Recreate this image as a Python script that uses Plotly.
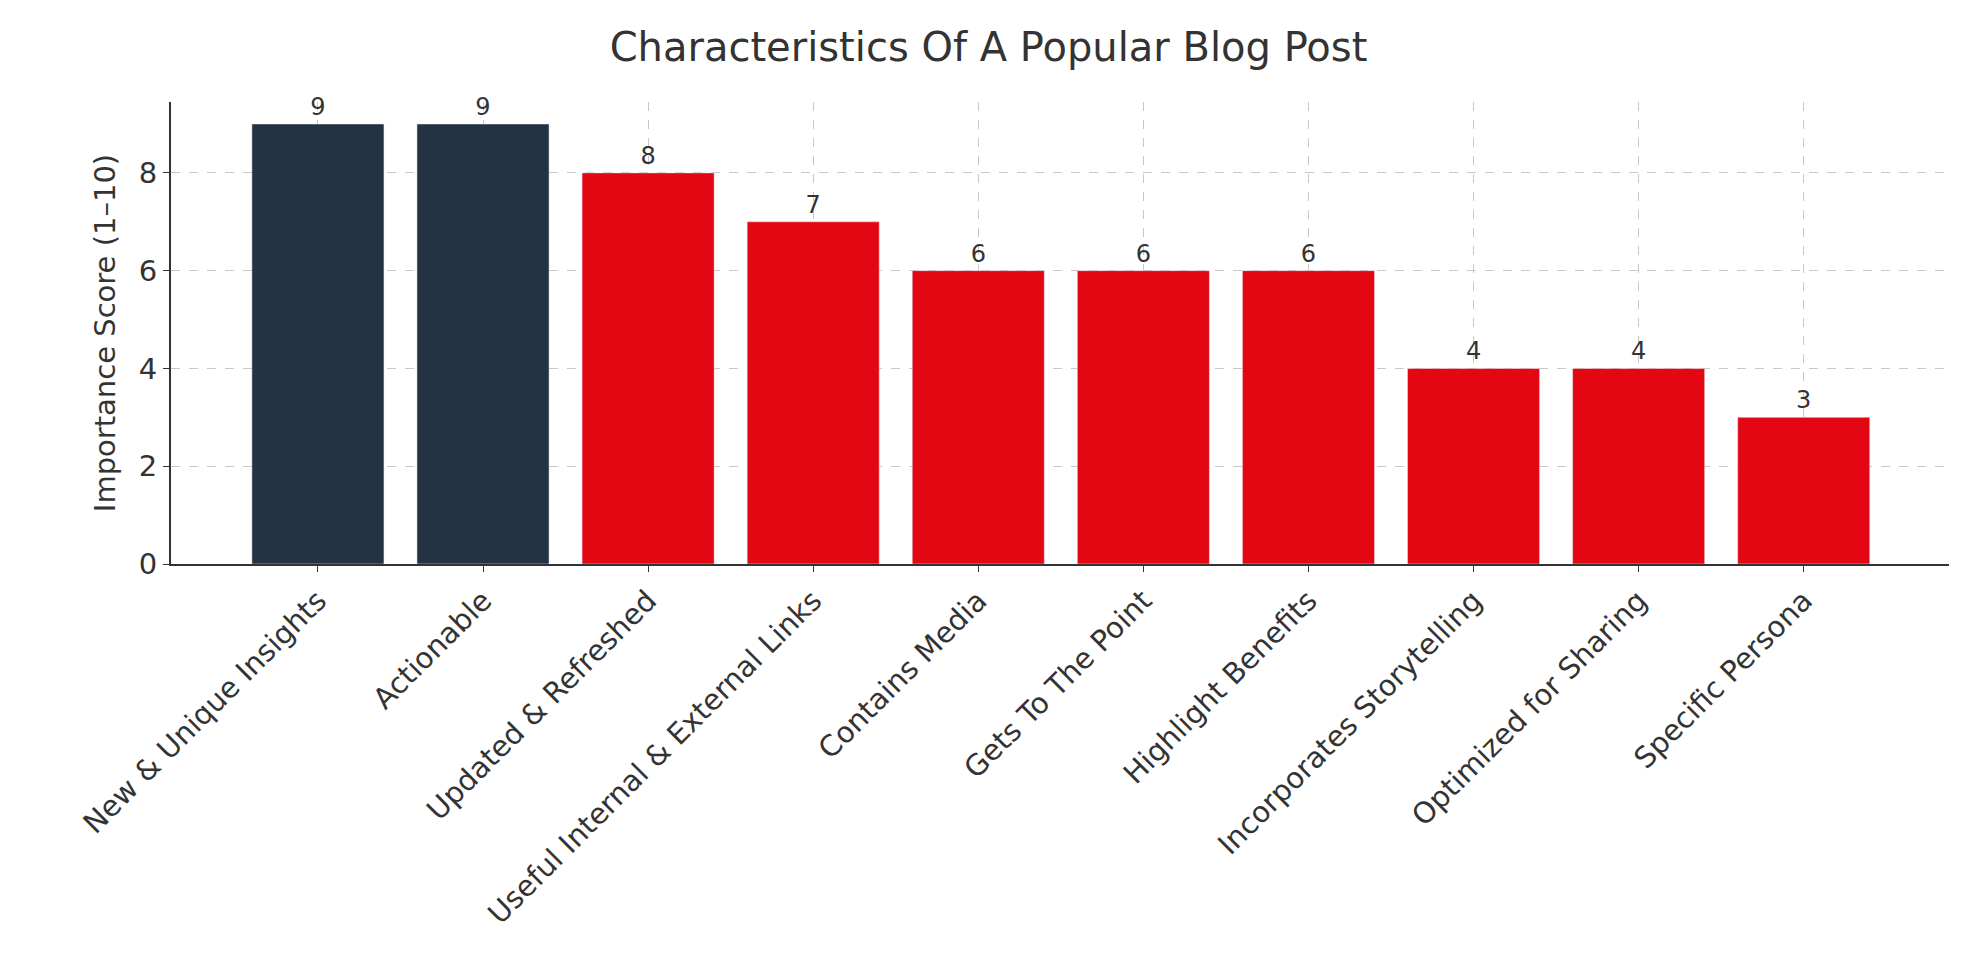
import plotly.graph_objects as go

categories = ["New & Unique Insights", "Actionable", "Updated & Refreshed",
              "Useful Internal & External Links", "Contains Media", "Gets To The Point",
              "Highlight Benefits", "Incorporates Storytelling", "Optimized for Sharing",
              "Specific Persona"]
scores = [9, 9, 8, 7, 6, 6, 6, 4, 4, 3]
colors = ["#233343", "#233343"] + ["#E30613"] * 8

fig = go.Figure(go.Bar(
    x=categories, y=scores, marker_color=colors, width=0.8,
    text=scores, textposition="outside", cliponaxis=False,
    textfont=dict(size=24, color="#333333"),
))

fig.update_layout(
    width=1961, height=980,
    margin=dict(l=163, r=20, t=94, b=424),
    plot_bgcolor="white", paper_bgcolor="white",
    font=dict(family="DejaVu Sans", color="#333333"),
    title=dict(text="Characteristics Of A Popular Blog Post", x=0.5, xanchor="center",
               y=0.96, yanchor="middle", font=dict(size=40, color="#333333")),
    showlegend=False,
)
fig.update_xaxes(range=[-0.89, 9.88], tickangle=-45, tickfont=dict(size=29),
                 showgrid=True, gridcolor="#c8c8c8", griddash="dash",
                 showline=True, linecolor="#333333", linewidth=2,
                 ticks="outside", ticklen=6, tickcolor="#333333")
fig.update_yaxes(range=[0, 9.45], dtick=2, tickfont=dict(size=29),
                 title=dict(text="Importance Score (1–10)", font=dict(size=29)),
                 showgrid=True, gridcolor="#c8c8c8", griddash="dash", zeroline=False,
                 showline=True, linecolor="#333333", linewidth=2,
                 ticks="outside", ticklen=6, tickcolor="#333333")

fig.write_html("out.html")
